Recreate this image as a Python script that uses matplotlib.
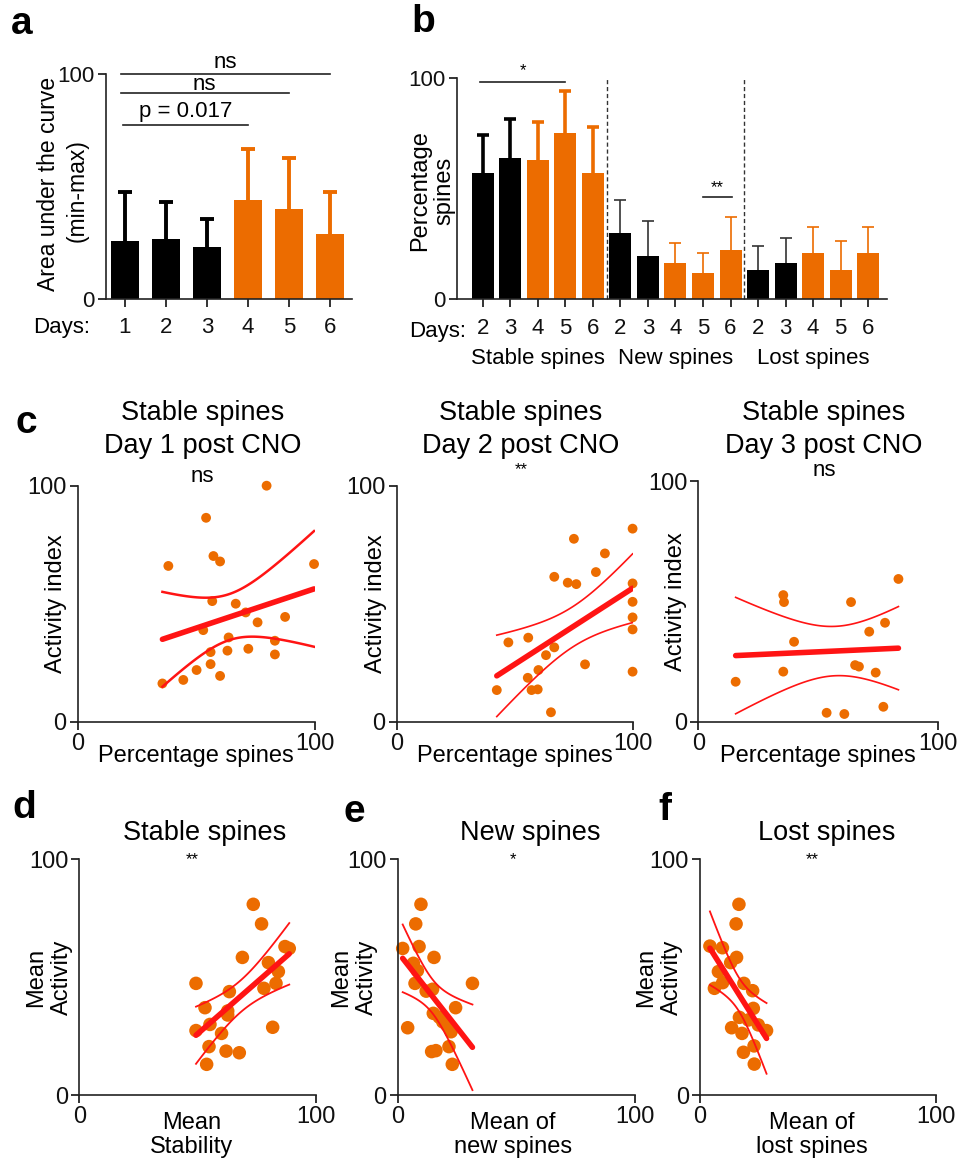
import numpy as np
import matplotlib.pyplot as plt

plt.rcParams['font.family'] = ['Liberation Sans', 'DejaVu Sans']

ORANGE = '#EC6C00'
RED = '#FF1414'

# panel a: area under the curve per day
a_days = ['1', '2', '3', '4', '5', '6']
a_mean = [25.8, 26.5, 23.3, 43.9, 39.9, 28.7]
a_err = [21.8, 16.5, 12.3, 22.8, 22.8, 18.7]
a_cno = [False, False, False, True, True, True]

# panel b: percentage spines per day and spine type
b_days = ['2', '3', '4', '5', '6'] * 3
b_groups = ['Stable spines', 'New spines', 'Lost spines']
b_mean = [56.8, 63.7, 62.7, 74.9, 57.1,
          29.7, 19.6, 16.1, 11.6, 22.1,
          13.1, 16.1, 20.6, 13.1, 20.6]
b_err = [17.4, 17.5, 17.3, 18.9, 20.5,
         15.0, 15.6, 9.3, 9.3, 15.1,
         11.0, 11.5, 12.1, 13.1, 12.1]
b_cno = [False, False, True, True, True] * 3

# panel c: activity index vs percentage stable spines, day 1..3 post CNO
c1_x = [38.2, 54.1, 57.2, 60.0, 79.6, 99.6, 56.7, 66.6, 70.8, 75.8, 87.4, 52.9,
        63.6, 56.0, 63.1, 71.9, 83.1, 83.1, 50.1, 56.0, 60.0, 44.5, 35.7]
c1_y = [66.0, 86.4, 70.2, 67.9, 100.0, 66.8, 51.1, 50.0, 46.3, 42.1, 44.4, 38.8,
        35.7, 29.5, 30.1, 30.9, 34.3, 28.5, 21.9, 24.4, 19.4, 17.7, 16.2]
c2_x = [99.7, 74.9, 88.0, 84.2, 66.6, 72.3, 75.9, 99.7, 99.7, 99.7, 99.7, 99.7,
        47.2, 55.6, 66.6, 63.1, 59.9, 55.4, 57.0, 59.6, 42.3, 79.6, 65.2]
c2_y = [81.8, 77.5, 71.3, 63.4, 61.4, 58.9, 58.3, 58.6, 50.8, 44.2, 39.1, 21.2,
        33.6, 35.6, 31.5, 28.2, 21.9, 18.6, 13.4, 13.7, 13.4, 24.3, 4.0]
c3_x = [83.6, 35.5, 35.8, 63.8, 78.0, 71.4, 40.0, 65.5, 67.1, 74.1, 35.5, 15.6,
        53.6, 61.0, 77.3]
c3_y = [59.3, 52.6, 49.7, 49.7, 41.1, 37.4, 33.2, 23.5, 22.9, 20.4, 20.8, 16.6,
        3.7, 3.2, 6.2]

# panels d-f: mean activity vs mean stability / new / lost spines
d_x = [73.5, 77.0, 68.9, 86.9, 88.7, 79.9, 84.1, 83.1, 78.0, 49.3, 63.4,
       53.1, 62.7, 62.7, 55.2, 49.3, 60.1, 81.7, 54.8, 62.0, 67.6, 53.8]
d_y = [80.8, 72.5, 58.3, 62.9, 62.1, 56.1, 52.3, 47.3, 45.2, 47.3, 43.8,
       37.0, 35.6, 33.9, 29.9, 27.3, 26.1, 28.7, 20.5, 18.6, 17.9, 13.0]
e_x = [9.8, 7.6, 2.1, 9.0, 15.3, 6.6, 8.3, 7.3, 31.5, 14.7, 24.4,
       15.0, 20.6, 22.5, 4.2, 21.6, 14.3, 16.1, 23.0, 17.5, 19.0, 12.0]
e_y = [80.8, 72.5, 62.1, 62.9, 58.3, 55.8, 52.7, 47.3, 47.3, 44.8, 37.0,
       34.6, 29.7, 26.8, 28.5, 20.5, 18.4, 18.8, 13.0, 33.0, 31.0, 44.0]
f_x = [16.5, 15.3, 4.2, 9.5, 15.5, 13.0, 7.8, 9.6, 6.1, 18.6, 22.3,
       22.6, 16.7, 20.5, 13.4, 28.2, 17.8, 22.9, 18.4, 23.0, 24.7]
f_y = [80.8, 72.5, 63.1, 62.4, 58.3, 56.1, 52.3, 47.6, 45.2, 47.3, 44.2,
       36.7, 32.9, 31.8, 28.5, 27.3, 26.1, 20.8, 18.1, 13.1, 29.7]

W, H = 960, 1162
fig = plt.figure(figsize=(W / 100, H / 100), dpi=100)


def px(x, y):
    return x / W, 1 - y / H


def add_ax(left, right, top, bottom):
    ax = fig.add_axes([left / W, 1 - bottom / H, (right - left) / W, (bottom - top) / H])
    for s in ['top', 'right']:
        ax.spines[s].set_visible(False)
    for s in ['left', 'bottom']:
        ax.spines[s].set_linewidth(1.2)
        ax.spines[s].set_color('#222222')
    ax.tick_params(direction='out', length=6, width=1.2, labelsize=16, colors='#111111', pad=2)
    return ax


def ylabel_at(ax, right_px, box_l, box_r, frac=0.5):
    # right_px: pixel x of the label's right edge
    ax.yaxis.set_label_coords((right_px - box_l) / (box_r - box_l), frac)


def sig_line(ax, x0, x1, y, label, size, off):
    ax.plot([x0, x1], [y, y], color='#222222', lw=1.2, clip_on=False)
    ax.text((x0 + x1) / 2, y + off, label, ha='center', va='baseline', fontsize=size)


def up_err(ax, x, m, e, color, lw, cap):
    eb = ax.errorbar(x, m, yerr=[[0], [e]], color=color, lw=lw, capsize=cap, capthick=lw)
    eb[1][0].set_visible(False)


# ---- panel a
ax = add_ax(106, 352, 74, 299)
xa = np.arange(len(a_mean))
cols = [ORANGE if c else 'black' for c in a_cno]
ax.bar(xa, a_mean, width=0.68, color=cols)
for i in range(len(xa)):
    up_err(ax, xa[i], a_mean[i], a_err[i], cols[i], 2.8, 5)
ax.set_xlim(-0.46, 5.54)
ax.set_ylim(0, 100)
ax.set_yticks([0, 100])
ax.set_xticks(xa)
ax.set_xticklabels(a_days)
ax.tick_params(axis='x', pad=7)
# two-line y label drawn as two texts so the short second line sits between the ticks
ax.text(-0.234, 0.513, 'Area under the curve', rotation=90, fontsize=16.5,
        ha='center', va='center', transform=ax.transAxes)
ax.text(-0.116, 0.484, '(min-max)', rotation=90, fontsize=16.5,
        ha='center', va='center', transform=ax.transAxes)
sig_line(ax, -0.1, 5.0, 100, 'ns', 16, 2.7)
sig_line(ax, -0.1, 4.0, 91.6, 'ns', 16, 1.3)
sig_line(ax, -0.05, 3.0, 77.3, 'p = 0.017', 16, 3.5)
fig.text(*px(62, 328), 'Days:', fontsize=16, ha='center', va='center')

# ---- panel b
ax = add_ax(457, 887, 77.7, 299)
xb = np.arange(len(b_mean))
cols = [ORANGE if c else 'black' for c in b_cno]
ax.bar(xb, b_mean, width=0.8, color=cols)
for i in range(len(xb)):
    if i < 5:
        up_err(ax, xb[i], b_mean[i], b_err[i], cols[i], 2.6, 4)
    else:
        up_err(ax, xb[i], b_mean[i], b_err[i], ORANGE if b_cno[i] else '#333333', 1.2, 4)
for xv in [4.5, 9.5]:
    ax.plot([xv, xv], [0, 100], color='#333333', lw=1, ls=(0, (3, 2)), clip_on=False)
ax.set_xlim(-0.93, 14.68)
ax.set_ylim(0, 100)
ax.set_yticks([0, 100])
ax.set_xticks(xb)
ax.set_xticklabels(b_days)
ax.tick_params(axis='x', pad=8)
ax.set_ylabel('Percentage\nspines', fontsize=17, linespacing=1.1)
ylabel_at(ax, 455, 457, 887, 0.49)
sig_line(ax, -0.1, 3.0, 98.0, '*', 12, 3.0)
sig_line(ax, 8.0, 9.05, 46.2, '**', 12, 2.0)
fig.text(*px(438, 331), 'Days:', fontsize=16, ha='center', va='center')
for gi, g in enumerate(b_groups):
    ax.text(gi * 5 + 2, -27, g, fontsize=16, ha='center', va='center')


# ---- scatter panels
def scatter_panel(ax, x, y, size, lw_ci):
    x = np.asarray(x, float)
    y = np.asarray(y, float)
    ax.scatter(x, y, s=size, color=ORANGE, edgecolor='none', zorder=2, clip_on=False)
    slope, icpt = np.polyfit(x, y, 1)
    xs = np.linspace(x.min(), x.max(), 100)
    yh = slope * xs + icpt
    n = len(x)
    resid = y - (slope * x + icpt)
    s = np.sqrt(np.sum(resid ** 2) / (n - 2))
    se = s * np.sqrt(1 / n + (xs - x.mean()) ** 2 / np.sum((x - x.mean()) ** 2))
    t = 2.08
    ax.plot(xs, yh, color=RED, lw=4, zorder=3, solid_capstyle='round')
    ax.plot(xs, yh + t * se, color=RED, lw=lw_ci, zorder=3)
    ax.plot(xs, yh - t * se, color=RED, lw=lw_ci, zorder=3)
    ax.set_xlim(0, 100)
    ax.set_ylim(0, 100)
    ax.set_xticks([0, 100])
    ax.set_yticks([0, 100])
    ax.tick_params(labelsize=17)


c_boxes = [(77.7, 315, 485.7, 721.7), (396.7, 633.3, 485.7, 721.7), (698.3, 937.7, 481, 721.7)]
c_data = [(c1_x, c1_y, 'Day 1 post CNO', 'ns', 1.8), (c2_x, c2_y, 'Day 2 post CNO', '**', 1.2),
          (c3_x, c3_y, 'Day 3 post CNO', 'ns', 1.2)]
c_sig_y = [476, 470, 471]
c_lab_x = [67, 387, 687]
for box, (cx, cy, ttl, sig, lw), sy, lx in zip(c_boxes, c_data, c_sig_y, c_lab_x):
    ax = add_ax(*box)
    scatter_panel(ax, cx, cy, 50, lw)
    ax.set_xlabel('Percentage spines', fontsize=17, labelpad=-7)
    ax.set_ylabel('Activity index', fontsize=17)
    ylabel_at(ax, lx, box[0], box[1])
    mid = (box[0] + box[1]) / 2 + 6
    fig.text(*px(mid, 413), 'Stable spines', fontsize=19.5, ha='center', va='center')
    fig.text(*px(mid, 446), ttl, fontsize=19.5, ha='center', va='center')
    fig.text(*px(mid, sy), sig, fontsize=16 if sig == 'ns' else 12, ha='center', va='center')

d_boxes = [(79.3, 316, 859, 1095), (397.7, 635, 859, 1095), (700, 936, 859, 1095)]
d_data = [(d_x, d_y, 'Stable spines', '**', 'Mean\nStability', 205, 192, 73),
          (e_x, e_y, 'New spines', '*', 'Mean of\nnew spines', 530, 513, 378),
          (f_x, f_y, 'Lost spines', '**', 'Mean of\nlost spines', 827, 812, 683)]
for box, (dx, dy, ttl, sig, xl, tx, sx, lx) in zip(d_boxes, d_data):
    ax = add_ax(*box)
    scatter_panel(ax, dx, dy, 95, 1.3)
    ax.set_ylabel('Mean\nActivity', fontsize=17, linespacing=1.25)
    ylabel_at(ax, lx, box[0], box[1])
    fig.text(*px(tx, 833), ttl, fontsize=19.5, ha='center', va='center')
    fig.text(*px(sx, 860), sig, fontsize=12, ha='center', va='center')
    fig.text(*px(sx, 1135), xl, fontsize=17, ha='center', va='center', linespacing=1.1)

# panel letters
for lab, (lx, ly) in zip('abcdef', [(22, 24), (423, 22), (26, 423), (24, 808), (354, 812), (665, 810)]):
    fig.text(*px(lx, ly), lab, fontsize=28, fontweight='bold', ha='center', va='center')

fig.savefig('out.png', dpi=100)
